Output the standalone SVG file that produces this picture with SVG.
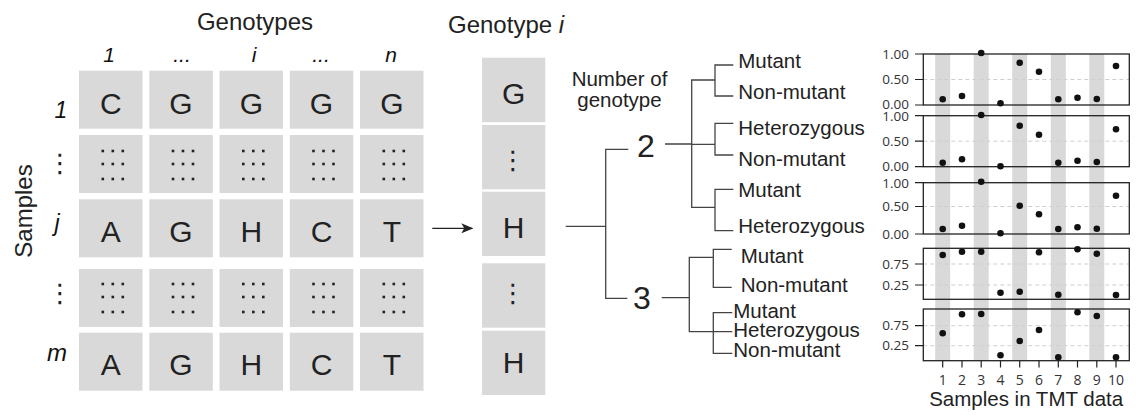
<svg xmlns="http://www.w3.org/2000/svg" xmlns:xlink="http://www.w3.org/1999/xlink" width="1136" height="415" viewBox="0 0 1136 415">
<style>
.cell{fill:#d9d9d9}
.big{font-family:"Liberation Sans",Arial,sans-serif;font-size:30px;fill:#222;text-anchor:middle}
.ttl{font-family:"Liberation Sans",Arial,sans-serif;font-size:24px;fill:#222}
.it{font-family:"Liberation Sans",Arial,sans-serif;font-style:italic;fill:#111;text-anchor:middle}
.vd{font-family:"DejaVu Sans",sans-serif;font-size:26px;fill:#222;text-anchor:middle}
.ln{stroke:#444;stroke-width:1.3;fill:none}
.lab{font-family:"Liberation Sans",Arial,sans-serif;font-size:20.5px;fill:#222}
.num{font-family:"Liberation Sans",Arial,sans-serif;font-size:32px;fill:#222;text-anchor:middle}
.tk{font-family:"Open Sans",sans-serif;font-size:13.5px;fill:#333;text-anchor:end}
.xt{font-family:"Open Sans",sans-serif;font-size:14px;fill:#333;text-anchor:middle}
.box{fill:none;stroke:#222;stroke-width:1.3}
.grid{stroke:#cfcfcf;stroke-width:1;stroke-dasharray:4 3}
.tick{stroke:#222;stroke-width:1.2}
.stripe{fill:#d9d9d9}
.pt{fill:#111}
</style>
<defs>
<g id="dots" fill="#222">
<rect x="-10.3" y="-14.3" width="2.6" height="2.6"/><rect x="-0.3" y="-14.3" width="2.6" height="2.6"/><rect x="9.7" y="-14.3" width="2.6" height="2.6"/>
<rect x="-10.3" y="-1.3" width="2.6" height="2.6"/><rect x="-0.3" y="-1.3" width="2.6" height="2.6"/><rect x="9.7" y="-1.3" width="2.6" height="2.6"/>
<rect x="-10.3" y="13.7" width="2.6" height="2.6"/><rect x="-0.3" y="13.7" width="2.6" height="2.6"/><rect x="9.7" y="13.7" width="2.6" height="2.6"/>
</g>
<marker id="arr" markerWidth="12" markerHeight="10" refX="11" refY="5" orient="auto" markerUnits="userSpaceOnUse">
<path d="M0,0 L12,5 L0,10 L3,5 Z" fill="#222"/>
</marker>
</defs>

<!-- titles -->
<text class="ttl" x="255" y="29.5" text-anchor="middle">Genotypes</text>
<text class="ttl" x="448" y="32.5">Genotype <tspan font-style="italic">i</tspan></text>
<text class="ttl" transform="translate(32,211) rotate(-90)" text-anchor="middle">Samples</text>

<!-- column headers -->
<g id="col-headers">
<text class="it" x="109" y="62.3" font-size="21">1</text>
<text class="it" x="182" y="62.3" font-size="21">...</text>
<text class="it" x="254" y="62.3" font-size="21">i</text>
<text class="it" x="321" y="62.3" font-size="21">...</text>
<text class="it" x="391" y="62.3" font-size="21">n</text>
</g>

<!-- row headers -->
<g id="row-headers">
<text class="it" x="61" y="118.3" font-size="23">1</text>
<text class="vd" x="60" y="172">⋮</text>
<text class="it" x="57" y="231" font-size="23">j</text>
<text class="vd" x="60" y="302">⋮</text>
<text class="it" x="57" y="360.5" font-size="24">m</text>
</g>

<!-- matrix -->
<g id="matrix">
<g id="r1">
<rect class="cell" x="79" y="70.7" width="63.5" height="58"/><text class="big" x="110.8" y="113.5">C</text>
<rect class="cell" x="149.3" y="70.7" width="63.5" height="58"/><text class="big" x="181" y="113.5">G</text>
<rect class="cell" x="219.5" y="70.7" width="63.5" height="58"/><text class="big" x="251.3" y="113.5">G</text>
<rect class="cell" x="289.8" y="70.7" width="63.5" height="58"/><text class="big" x="321.5" y="113.5">G</text>
<rect class="cell" x="360" y="70.7" width="63.5" height="58"/><text class="big" x="391.8" y="113.5">G</text>
</g>
<g id="r2">
<rect class="cell" x="79" y="135" width="63.5" height="58"/><use xlink:href="#dots" x="111.8" y="164"/>
<rect class="cell" x="149.3" y="135" width="63.5" height="58"/><use xlink:href="#dots" x="182" y="164"/>
<rect class="cell" x="219.5" y="135" width="63.5" height="58"/><use xlink:href="#dots" x="252.3" y="164"/>
<rect class="cell" x="289.8" y="135" width="63.5" height="58"/><use xlink:href="#dots" x="322.5" y="164"/>
<rect class="cell" x="360" y="135" width="63.5" height="58"/><use xlink:href="#dots" x="392.8" y="164"/>
</g>
<g id="r3">
<rect class="cell" x="79" y="199.3" width="63.5" height="58"/><text class="big" x="110.8" y="241.5">A</text>
<rect class="cell" x="149.3" y="199.3" width="63.5" height="58"/><text class="big" x="181" y="241.5">G</text>
<rect class="cell" x="219.5" y="199.3" width="63.5" height="58"/><text class="big" x="251.3" y="241.5">H</text>
<rect class="cell" x="289.8" y="199.3" width="63.5" height="58"/><text class="big" x="321.5" y="241.5">C</text>
<rect class="cell" x="360" y="199.3" width="63.5" height="58"/><text class="big" x="391.8" y="241.5">T</text>
</g>
<g id="r4">
<rect class="cell" x="79" y="269" width="63.5" height="58"/><use xlink:href="#dots" x="111.8" y="297"/>
<rect class="cell" x="149.3" y="269" width="63.5" height="58"/><use xlink:href="#dots" x="182" y="297"/>
<rect class="cell" x="219.5" y="269" width="63.5" height="58"/><use xlink:href="#dots" x="252.3" y="297"/>
<rect class="cell" x="289.8" y="269" width="63.5" height="58"/><use xlink:href="#dots" x="322.5" y="297"/>
<rect class="cell" x="360" y="269" width="63.5" height="58"/><use xlink:href="#dots" x="392.8" y="297"/>
</g>
<g id="r5">
<rect class="cell" x="79" y="332.7" width="63.5" height="58"/><text class="big" x="110.8" y="375">A</text>
<rect class="cell" x="149.3" y="332.7" width="63.5" height="58"/><text class="big" x="181" y="375">G</text>
<rect class="cell" x="219.5" y="332.7" width="63.5" height="58"/><text class="big" x="251.3" y="375">H</text>
<rect class="cell" x="289.8" y="332.7" width="63.5" height="58"/><text class="big" x="321.5" y="375">C</text>
<rect class="cell" x="360" y="332.7" width="63.5" height="58"/><text class="big" x="391.8" y="375">T</text>
</g>
</g>

<!-- genotype i column -->
<g id="genotype-i">
<rect class="cell" x="482" y="57.7" width="63.3" height="64.5"/><text class="big" x="513.6" y="104">G</text>
<rect class="cell" x="482" y="125" width="63.3" height="64.3"/><text class="vd" x="513" y="169">⋮</text>
<rect class="cell" x="482" y="191.7" width="63.3" height="64.3"/><text class="big" x="513.6" y="238">H</text>
<rect class="cell" x="482" y="263.3" width="63.3" height="64.4"/><text class="vd" x="513" y="302">⋮</text>
<rect class="cell" x="482" y="330.7" width="63.3" height="64.3"/><text class="big" x="513.6" y="373">H</text>
</g>

<!-- tree labels -->
<g id="tree-labels">
<text class="lab" x="619.5" y="86" text-anchor="middle" font-size="20">Number of</text>
<text class="lab" x="619.5" y="106.5" text-anchor="middle" font-size="20">genotype</text>
<text class="num" x="646" y="156.7">2</text>
<text class="num" x="642" y="309.3">3</text>
<text class="lab" x="738.3" y="68.3">Mutant</text>
<text class="lab" x="738.3" y="99.3">Non-mutant</text>
<text class="lab" x="738.3" y="135">Heterozygous</text>
<text class="lab" x="738.3" y="166">Non-mutant</text>
<text class="lab" x="738.3" y="196.7">Mutant</text>
<text class="lab" x="738.3" y="233.3">Heterozygous</text>
<text class="lab" x="740.7" y="263.3">Mutant</text>
<text class="lab" x="740.7" y="291.7">Non-mutant</text>
<text class="lab" x="733.3" y="318">Mutant</text>
<text class="lab" x="733.3" y="337">Heterozygous</text>
<text class="lab" x="733.3" y="357">Non-mutant</text>
</g>

<!-- connectors -->
<g id="connectors">
<line x1="432.3" y1="228.3" x2="472.3" y2="228.3" stroke="#222" stroke-width="1.3" marker-end="url(#arr)"/>
<path class="ln" d="M565.7,226.3H605.7M628.3,149.3H605.7V298.3H627.3"/>
<path class="ln" d="M665,144H691.7M715,80H691.7V207.3H715M691.7,144.3H715"/>
<path class="ln" d="M733.3,65H715V96H733.3"/>
<path class="ln" d="M733.3,123.3H715V155H733.3"/>
<path class="ln" d="M733.3,189.3H715V230.7H733.3"/>
<path class="ln" d="M661.7,297.7H689.3M713.3,257.3H689.3V331.7H732.3"/>
<path class="ln" d="M731.7,249.3H713.3V287.3H731.7"/>
<path class="ln" d="M732.3,312.7H713.3V353.3H732.3"/>
</g>

<!-- plots -->
<g id="plots">
<g id="stripes">
<rect class="stripe" x="935.2" y="54" width="15" height="306.7"/>
<rect class="stripe" x="973.7" y="54" width="15" height="306.7"/>
<rect class="stripe" x="1012.2" y="54" width="15" height="306.7"/>
<rect class="stripe" x="1050.8" y="54" width="15" height="306.7"/>
<rect class="stripe" x="1089.3" y="54" width="15" height="306.7"/>
</g>
<g id="plot1">
<line class="grid" x1="923.3" y1="79.5" x2="1129.3" y2="79.5"/>
<rect class="box" x="923.3" y="54" width="206" height="51"/>
<path class="tick" d="M915,54H923.3M915,79.5H923.3M915,105H923.3"/>
<text class="tk" x="909" y="58.5">1.00</text><text class="tk" x="909" y="84">0.50</text><text class="tk" x="909" y="108.8">0.00</text>
<g class="pt"><circle cx="942.7" cy="99.3" r="3.3"/><circle cx="962" cy="96" r="3.3"/><circle cx="981.2" cy="53" r="3.3"/><circle cx="1000.5" cy="103.3" r="3.3"/><circle cx="1019.7" cy="62.7" r="3.3"/><circle cx="1039" cy="71.7" r="3.3"/><circle cx="1058.3" cy="99.3" r="3.3"/><circle cx="1077.5" cy="97.7" r="3.3"/><circle cx="1096.8" cy="99" r="3.3"/><circle cx="1116" cy="66" r="3.3"/></g>
</g>
<g id="plot2">
<line class="grid" x1="923.3" y1="141.2" x2="1129.3" y2="141.2"/>
<rect class="box" x="923.3" y="115.7" width="206" height="51"/>
<path class="tick" d="M915,115.7H923.3M915,141.2H923.3M915,166.7H923.3"/>
<text class="tk" x="909" y="121">1.00</text><text class="tk" x="909" y="145.7">0.50</text><text class="tk" x="909" y="170.5">0.00</text>
<g class="pt"><circle cx="942.7" cy="162.7" r="3.3"/><circle cx="962" cy="159.3" r="3.3"/><circle cx="981.2" cy="115" r="3.3"/><circle cx="1000.5" cy="166.2" r="3.3"/><circle cx="1019.7" cy="125.7" r="3.3"/><circle cx="1039" cy="134.7" r="3.3"/><circle cx="1058.3" cy="162.7" r="3.3"/><circle cx="1077.5" cy="160.7" r="3.3"/><circle cx="1096.8" cy="162" r="3.3"/><circle cx="1116" cy="129.3" r="3.3"/></g>
</g>
<g id="plot3">
<line class="grid" x1="923.3" y1="206.5" x2="1129.3" y2="206.5"/>
<rect class="box" x="923.3" y="182.7" width="206" height="51.3"/>
<path class="tick" d="M915,182.7H923.3M915,206.5H923.3M915,234H923.3"/>
<text class="tk" x="909" y="187.5">1.00</text><text class="tk" x="909" y="211">0.50</text><text class="tk" x="909" y="238.5">0.00</text>
<g class="pt"><circle cx="942.7" cy="229" r="3.3"/><circle cx="962" cy="225.7" r="3.3"/><circle cx="981.2" cy="181.7" r="3.3"/><circle cx="1000.5" cy="233.3" r="3.3"/><circle cx="1019.7" cy="205.7" r="3.3"/><circle cx="1039" cy="214.3" r="3.3"/><circle cx="1058.3" cy="229" r="3.3"/><circle cx="1077.5" cy="227.3" r="3.3"/><circle cx="1096.8" cy="228.7" r="3.3"/><circle cx="1116" cy="195.7" r="3.3"/></g>
</g>
<g id="plot4">
<line class="grid" x1="923.3" y1="264" x2="1129.3" y2="264"/>
<line class="grid" x1="923.3" y1="285" x2="1129.3" y2="285"/>
<rect class="box" x="923.3" y="248.3" width="206" height="51"/>
<path class="tick" d="M915,264H923.3M915,285H923.3"/>
<text class="tk" x="909" y="268.5">0.75</text><text class="tk" x="909" y="289.5">0.25</text>
<g class="pt"><circle cx="942.7" cy="255" r="3.3"/><circle cx="962" cy="251.7" r="3.3"/><circle cx="981.2" cy="251.7" r="3.3"/><circle cx="1000.5" cy="292.7" r="3.3"/><circle cx="1019.7" cy="291.7" r="3.3"/><circle cx="1039" cy="252.3" r="3.3"/><circle cx="1058.3" cy="294.7" r="3.3"/><circle cx="1077.5" cy="249.3" r="3.3"/><circle cx="1096.8" cy="253.7" r="3.3"/><circle cx="1116" cy="295" r="3.3"/></g>
</g>
<g id="plot5">
<line class="grid" x1="923.3" y1="325.7" x2="1129.3" y2="325.7"/>
<line class="grid" x1="923.3" y1="345.7" x2="1129.3" y2="345.7"/>
<rect class="box" x="923.3" y="309" width="206" height="51.7"/>
<path class="tick" d="M915,325.7H923.3M915,345.7H923.3"/>
<text class="tk" x="909" y="330.2">0.75</text><text class="tk" x="909" y="350.2">0.25</text>
<g class="pt"><circle cx="942.7" cy="333.3" r="3.3"/><circle cx="962" cy="314.3" r="3.3"/><circle cx="981.2" cy="314" r="3.3"/><circle cx="1000.5" cy="355.3" r="3.3"/><circle cx="1019.7" cy="341" r="3.3"/><circle cx="1039" cy="330" r="3.3"/><circle cx="1058.3" cy="357.3" r="3.3"/><circle cx="1077.5" cy="312.3" r="3.3"/><circle cx="1096.8" cy="316" r="3.3"/><circle cx="1116" cy="357.3" r="3.3"/></g>
</g>
<g id="x-axis">
<path class="tick" d="M942.7,360.7V367.5M962,360.7V367.5M981.2,360.7V367.5M1000.5,360.7V367.5M1019.7,360.7V367.5M1039,360.7V367.5M1058.3,360.7V367.5M1077.5,360.7V367.5M1096.8,360.7V367.5M1116,360.7V367.5"/>
<text class="xt" x="942.7" y="384.5">1</text><text class="xt" x="962" y="384.5">2</text><text class="xt" x="981.2" y="384.5">3</text><text class="xt" x="1000.5" y="384.5">4</text><text class="xt" x="1019.7" y="384.5">5</text><text class="xt" x="1039" y="384.5">6</text><text class="xt" x="1058.3" y="384.5">7</text><text class="xt" x="1077.5" y="384.5">8</text><text class="xt" x="1096.8" y="384.5">9</text><text class="xt" x="1116" y="384.5">10</text>
<text class="lab" x="1026.2" y="406" text-anchor="middle" font-size="21">Samples in TMT data</text>
</g>
</g>
</svg>
